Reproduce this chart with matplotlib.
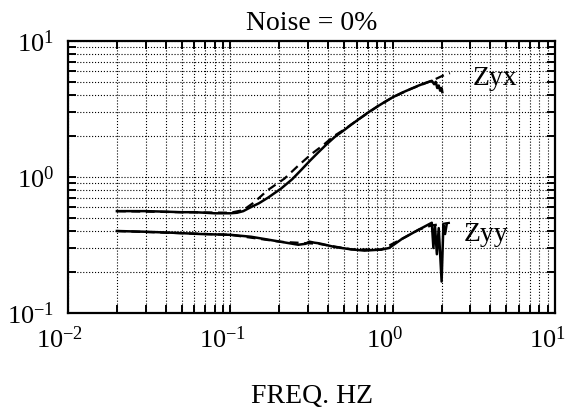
import numpy as np
import matplotlib
matplotlib.use('Agg')
import matplotlib.pyplot as plt
import matplotlib.transforms as mtransforms

plt.rcParams['font.family'] = ['Liberation Serif', 'DejaVu Serif']
plt.rcParams['mathtext.fontset'] = 'stix'
plt.rcParams['axes.unicode_minus'] = False

# Zyx, measured (solid)
zyx_freq = [0.02, 0.03, 0.04, 0.05, 0.06, 0.07, 0.08, 0.09, 0.1, 0.11, 0.12,
            0.134, 0.15, 0.171, 0.19, 0.205, 0.215, 0.24, 0.274, 0.31, 0.347,
            0.39, 0.44, 0.5, 0.557, 0.63, 0.707, 0.8, 0.897, 1.0, 1.14, 1.3,
            1.44, 1.6, 1.74, 1.8, 1.84, 1.88, 1.92, 1.96, 2.0, 2.02]
zyx_val = [0.56, 0.56, 0.555, 0.55, 0.55, 0.545, 0.54, 0.54, 0.54, 0.545, 0.56,
           0.6, 0.64, 0.705, 0.77, 0.82, 0.86, 0.96, 1.13, 1.32, 1.51,
           1.73, 1.97, 2.2, 2.43, 2.7, 2.98, 3.28, 3.57, 3.85, 4.16, 4.45,
           4.69, 4.92, 5.09, 4.8, 5.0, 4.5, 4.7, 4.3, 4.5, 4.2]

# Zyx, model (dashed)
zyx_model_freq = [0.02, 0.05, 0.1, 0.12, 0.14, 0.17, 0.215, 0.26, 0.315, 0.37,
                  0.435, 0.5, 0.63, 0.8, 1.0, 1.3, 1.74, 2.0, 2.25]
zyx_model_val = [0.56, 0.55, 0.545, 0.57, 0.65, 0.8, 0.97, 1.2, 1.47, 1.7,
                 2.0, 2.22, 2.7, 3.28, 3.85, 4.45, 5.09, 5.5, 5.8]

# Zyy, measured (solid)
zyy_freq = [0.02, 0.03, 0.045, 0.066, 0.1, 0.134, 0.17, 0.205, 0.262, 0.29,
            0.306, 0.33, 0.35, 0.44, 0.557, 0.67, 0.85, 0.95, 1.14, 1.45,
            1.74, 1.78, 1.82, 1.87, 1.92, 2.0, 2.05, 2.1, 2.15]
zyy_val = [0.40, 0.395, 0.388, 0.38, 0.375, 0.363, 0.346, 0.333, 0.317, 0.322,
           0.334, 0.328, 0.325, 0.305, 0.293, 0.287, 0.292, 0.30, 0.35, 0.41,
           0.46, 0.30, 0.44, 0.27, 0.42, 0.17, 0.44, 0.38, 0.45]

# Zyy, model (dashed)
zyy_model_freq = [0.02, 0.1, 0.205, 0.35, 0.557, 0.85, 1.14, 1.45, 1.74, 2.0, 2.25]
zyy_model_val = [0.40, 0.375, 0.333, 0.322, 0.293, 0.292, 0.35, 0.41, 0.44, 0.45, 0.46]

fig = plt.figure(figsize=(5.67, 4.09), dpi=100)
ax = fig.add_axes([0.12, 0.235, 0.859, 0.665])

ax.plot(zyx_model_freq, zyx_model_val, color='black', lw=1.6, ls=(0, (4, 2.5)))
ax.plot(zyy_model_freq, zyy_model_val, color='black', lw=1.6, ls=(0, (4, 2.5)))
ax.plot(zyx_freq, zyx_val, color='black', lw=1.8)
ax.plot(zyy_freq, zyy_val, color='black', lw=1.8)

ax.set_xscale('log')
ax.set_yscale('log')
ax.set_xlim(0.01, 10)
ax.set_ylim(0.1, 10)

ax.grid(True, which='both', color='black', ls=':', lw=0.8)
ax.tick_params(which='both', direction='in', top=True, right=True,
               length=6, width=1.4, labelsize=19, pad=10)
for s in ax.spines.values():
    s.set_linewidth(1.6)

fig.canvas.draw()
# x labels sit a little left of their ticks, the last one ends at the frame
shift = mtransforms.ScaledTranslation(-8 / 100, 0, fig.dpi_scale_trans)
xlabels = ax.get_xticklabels()
for lab in xlabels:
    lab.set_transform(lab.get_transform() + shift)
xlabels[-1].set_horizontalalignment('right')
xlabels[-1].set_transform(xlabels[-1].get_transform()
                          + mtransforms.ScaledTranslation(8 / 100, 0, fig.dpi_scale_trans))

ax.text(3.1, 5.3, 'Zyx', fontsize=20, va='center', ha='left')
ax.text(2.75, 0.38, 'Zyy', fontsize=20, va='center', ha='left')

ax.set_title('Noise = 0%', fontsize=20, pad=8)
ax.set_xlabel('FREQ. HZ', fontsize=20, labelpad=22)

fig.savefig('out.png', dpi=100)
